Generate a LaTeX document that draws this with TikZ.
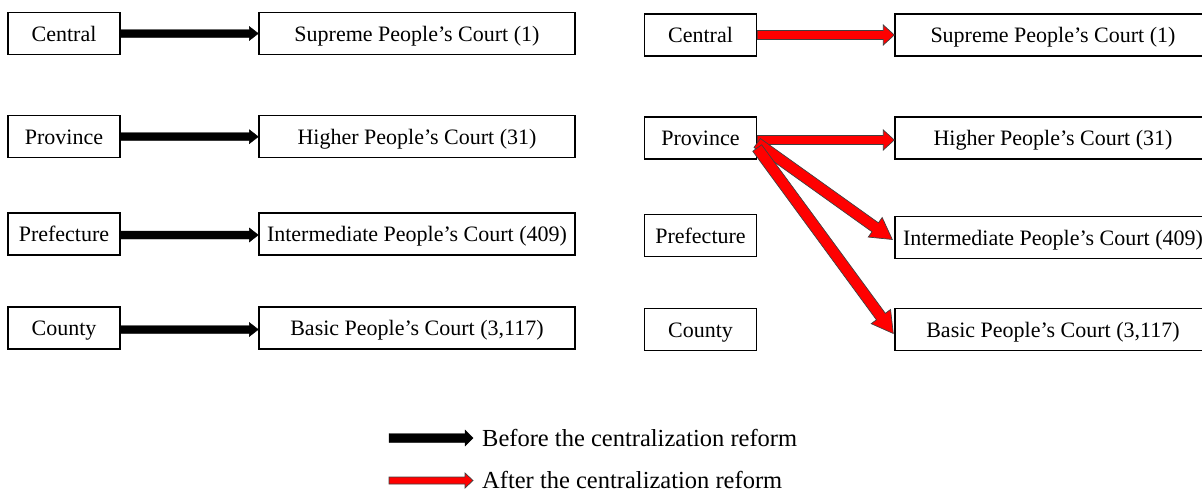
\documentclass[tikz,border=0pt]{standalone}
\usepackage{fontspec}
\setmainfont{Liberation Serif}
\usetikzlibrary{calc}
\newcommand\blkarr[6]{%
  \coordinate (ba) at (#2);
  \coordinate (bb) at (#3);
  \coordinate (bh) at ($(bb)!#6!(ba)$);
  \draw[#1] ($(ba)!#4!90:(bb)$) -- ($(bh)!#4!90:(bb)$) -- ($(bh)!#5!90:(bb)$) -- (bb)
    -- ($(bh)!#5!-90:(bb)$) -- ($(bh)!#4!-90:(bb)$) -- ($(ba)!#4!-90:(bb)$) -- cycle;
}
\tikzset{
  box/.style={draw, line width=1.4pt, minimum height=42pt, inner sep=0pt,
    text height=15pt, text depth=0pt,
    font=\fontsize{22}{26}\selectfont},
  lvl/.style={box, minimum width=112pt},
  court/.style={box, minimum width=316pt},
  legtext/.style={anchor=base west, inner sep=0pt, font=\fontsize{24.5}{28}\selectfont},
  blackarr/.style={fill=black, draw=black, line width=0.4pt, line join=miter},
  redarr/.style={fill=red, draw=black!75, line width=0.7pt, line join=miter},
}
\begin{document}
\begin{tikzpicture}[x=1pt, y=-1pt]
\useasboundingbox (0,0) rectangle (1202,490);
\clip (0,0) rectangle (1202,490);
% left panel
\node[lvl] (lc) at (64,33.5) {Central};
\node[lvl] (lp) at (64,136.7) {Province};
\node[lvl] (lf) at (64,234) {Prefecture};
\node[lvl] (ly) at (64,328) {County};
\node[court] (ls) at (417,33.5) {Supreme People’s Court (1)};
\node[court] (lh) at (417,136.7) {Higher People’s Court (31)};
\node[court] (li) at (417,234) {Intermediate People’s Court (409)};
\node[court] (lb) at (417,328) {Basic People’s Court (3,117)};
\blkarr{blackarr}{lc.east}{ls.west}{4pt}{7pt}{9pt}
\blkarr{blackarr}{lp.east}{lh.west}{4pt}{7pt}{9pt}
\blkarr{blackarr}{$(lf.east)+(0,1)$}{$(li.west)+(0,1)$}{4pt}{7pt}{9pt}
\blkarr{blackarr}{$(ly.east)+(0,1.5)$}{$(lb.west)+(0,1.5)$}{4pt}{7pt}{9pt}
% right panel
\node[lvl] (rc) at (700.5,35) {Central};
\node[lvl] (rp) at (700.5,138) {Province};
\node[lvl] (rf) at (700.5,235.5) {Prefecture};
\node[lvl] (ry) at (700.5,329.5) {County};
\node[court] (rs) at (1053,35) {Supreme People’s Court (1)};
\node[court] (rh) at (1053,138) {Higher People’s Court (31)};
\node[court] (ri) at (1053,237.5) {Intermediate People’s Court (409)};
\node[court] (rb) at (1053,329.5) {Basic People’s Court (3,117)};
\blkarr{redarr}{rc.east}{rs.west}{4.5pt}{10pt}{11pt}
\blkarr{redarr}{$(rp.east)+(0,2)$}{$(rh.west)+(0,2)$}{4.5pt}{10pt}{11pt}
\blkarr{redarr}{$(rp.east)+(0,5)$}{$(ri.west)+(-2,2)$}{5.5pt}{12pt}{21pt}
\blkarr{redarr}{$(rp.east)+(0,10)$}{$(rb.west)+(-1,4)$}{5.5pt}{12pt}{21pt}
% legend
\node[legtext] (before) at (482,446.5) {Before the centralization reform};
\node[legtext] (after) at (482,488) {After the centralization reform};
\coordinate (bstart) at (389,438);
\coordinate (astart) at (389,480.5);
\blkarr{blackarr}{bstart}{473,438}{4.5pt}{8pt}{8pt}
\blkarr{redarr}{astart}{473,480.5}{3.5pt}{7.5pt}{8pt}
\end{tikzpicture}
\end{document}
